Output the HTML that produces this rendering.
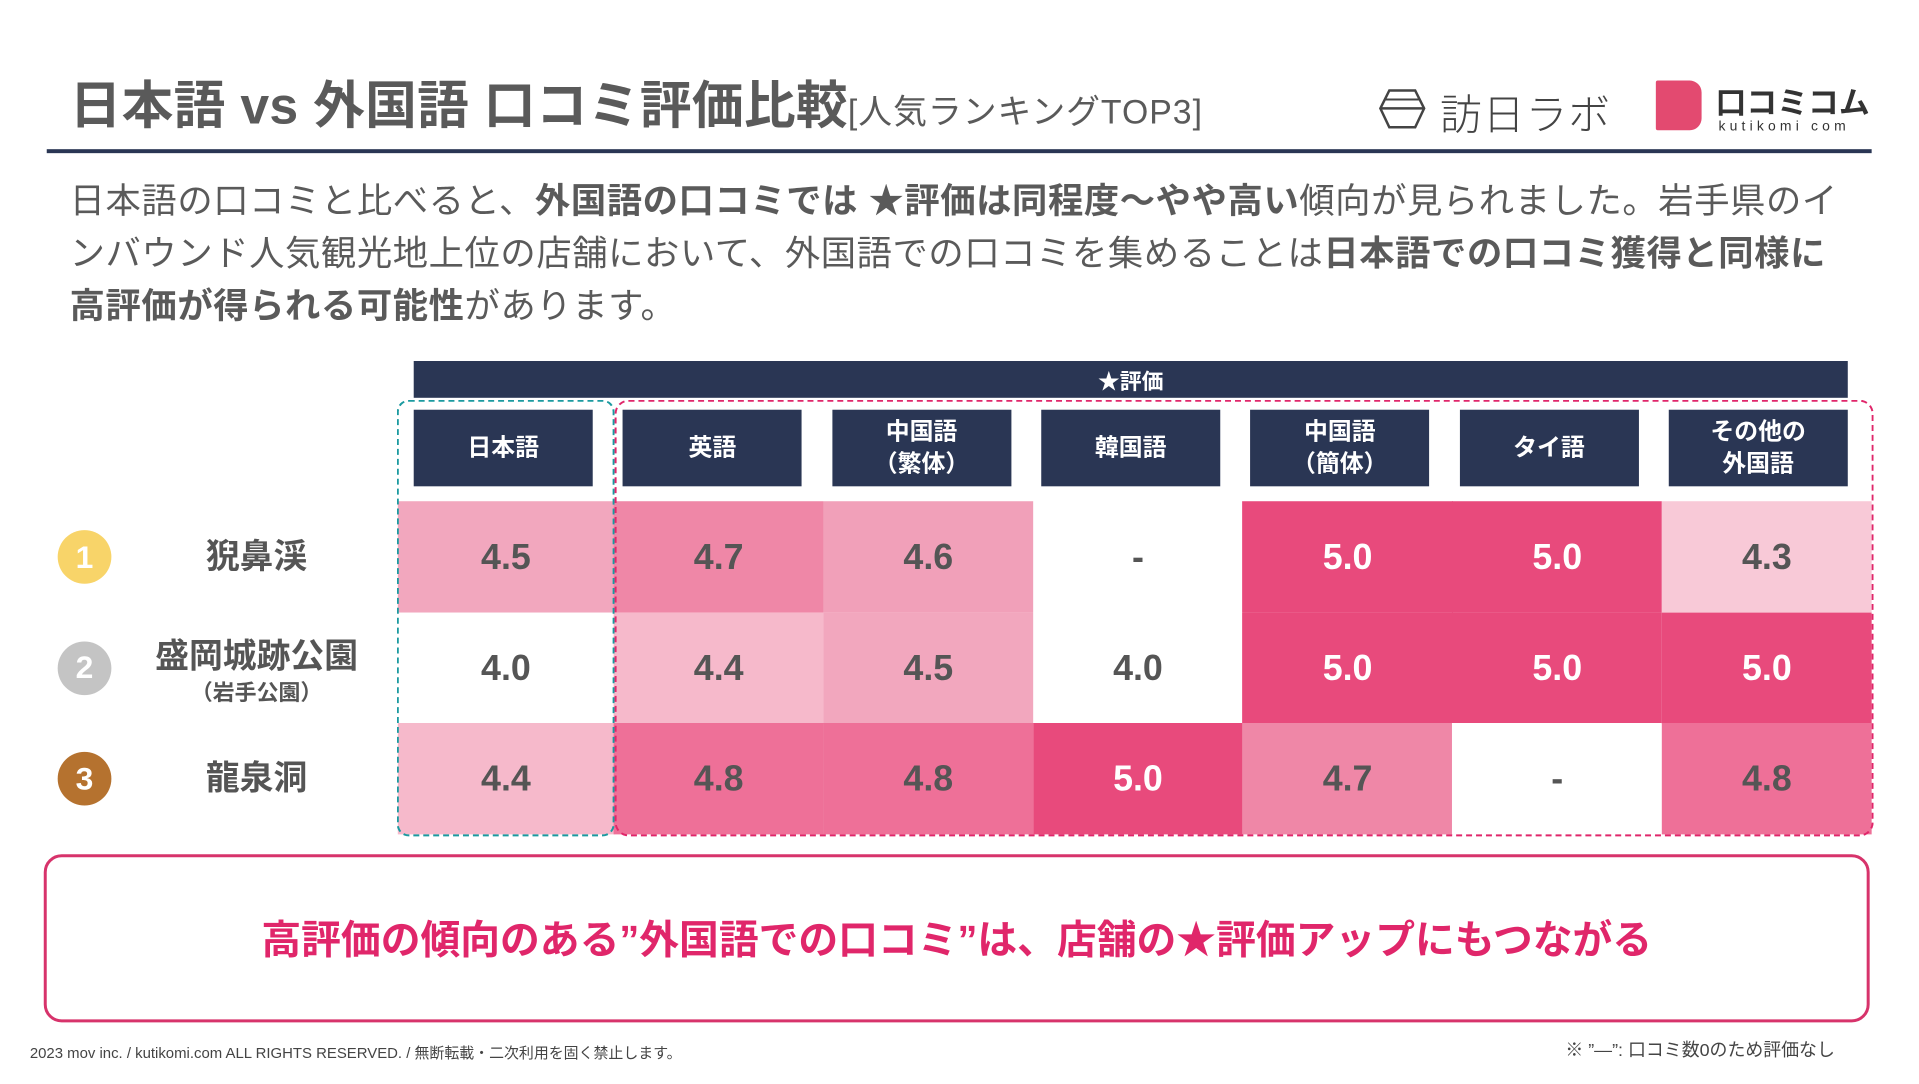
<!DOCTYPE html>
<html><head><meta charset="utf-8">
<style>
html,body{margin:0;padding:0;background:#fff;}
body{width:1919px;height:1080px;position:relative;overflow:hidden;font-family:"Liberation Sans","Noto Sans CJK JP",sans-serif;color:#555;}
#wrap{position:absolute;left:0;top:0;width:1930px;height:1090px;transform:scale(0.9945);transform-origin:0 0;}
.abs{position:absolute;}
.title{left:70px;top:64px;font-size:52px;font-weight:bold;color:#5a5a5a;white-space:nowrap;letter-spacing:0.3px;}
.title span{font-size:34px;font-weight:normal;letter-spacing:1px;}
.para{left:70px;top:176px;font-size:35.5px;line-height:53px;color:#5a5a5a;white-space:nowrap;letter-spacing:0.6px;}
.hdr{background:#2a3654;color:#fff;font-weight:bold;display:flex;align-items:center;justify-content:center;text-align:center;}
.cell{display:flex;align-items:center;justify-content:center;font-weight:bold;font-size:36px;}
.rank{width:54px;height:54px;border-radius:50%;color:#fff;font-weight:bold;font-size:32px;display:flex;align-items:center;justify-content:center;}
.lbl{font-weight:bold;font-size:34px;color:#555;text-align:center;width:260px;}
</style></head>
<body>
<div id="wrap">
<div class="abs title">日本語 vs 外国語 口コミ評価比較<span>[人気ランキングTOP3]</span></div>

<svg class="abs" style="left:1385px;top:88px" width="50" height="44">
<polygon points="12,3 38,3 47,21 38,40 12,40 3,21" fill="none" stroke="#444" stroke-width="2.5"/>
<line x1="3" y1="21" x2="47" y2="21" stroke="#444" stroke-width="2.5"/><line x1="8" y1="12" x2="42" y2="12" stroke="#444" stroke-width="2"/></svg>
<div class="abs" style="left:1448px;top:82px;font-size:42px;color:#444;letter-spacing:1px;white-space:nowrap;font-weight:300">訪日ラボ</div>
<div class="abs" style="left:1665px;top:81px;width:46px;height:50px;background:#e34a70;border-radius:2px 12px 12px 2px"></div>
<div class="abs" style="left:1725px;top:78px;font-size:31px;color:#333;font-weight:bold;white-space:nowrap;letter-spacing:0px">口コミコム</div>
<div class="abs" style="left:1728px;top:118px;font-size:14px;color:#333;letter-spacing:4.2px;white-space:nowrap">kutikomi com</div>

<div class="abs" style="left:47px;top:150px;width:1835px;height:4px;background:#2a3654"></div>

<div class="abs para">日本語の口コミと比べると、<b>外国語の口コミでは ★評価は同程度〜やや高い</b>傾向が見られました。岩手県のイ<br>ンバウンド人気観光地上位の店舗において、外国語での口コミを集めることは<b>日本語での口コミ獲得と同様に</b><br><b>高評価が得られる可能性</b>があります。</div>

<div class="abs hdr" style="left:416px;top:363px;width:1442px;height:37px;font-size:22px">★評価</div>

<div id="chart"></div>

<div class="abs" style="left:44px;top:859px;width:1830px;height:163px;border:3px solid #d7336b;border-radius:18px"></div>
<div class="abs" style="left:44px;top:913px;width:1836px;text-align:center;font-size:40px;font-weight:bold;color:#e0266a;white-space:nowrap">高評価の傾向のある”外国語での口コミ”は、店舗の★評価アップにもつながる</div>

<div class="abs" style="left:30px;top:1048px;font-size:15px;color:#444;white-space:nowrap">2023 mov inc. / kutikomi.com ALL RIGHTS RESERVED. / 無断転載・二次利用を固く禁止します。</div>
<div class="abs" style="left:1574px;top:1042px;font-size:18px;color:#444;white-space:nowrap">※ ”―”: 口コミ数0のため評価なし</div>
</div>
<script>
const languages = ["日本語","英語","中国語<br>（繁体）","韓国語","中国語<br>（簡体）","タイ語","その他の<br>外国語"];
const spots = ["猊鼻渓","盛岡城跡公園","龍泉洞"];
const spotSub = ["","（岩手公園）",""];
const rankColors = ["#f8d469","#c4c4c4","#b5722f"];
const row1 = [4.5,4.7,4.6,null,5.0,5.0,4.3];
const row2 = [4.0,4.4,4.5,4.0,5.0,5.0,5.0];
const row3 = [4.4,4.8,4.8,5.0,4.7,null,4.8];
const rows = [row1,row2,row3];

const root = document.getElementById('chart');
const cellX = i => i === 0 ? 400 : 617 + (i - 1) * 210.8;
const cellW = i => i === 0 ? 217 : 210.8;
const hdrX = i => 416 + i * 210.3;
const rowY = r => 504 + r * 111.7;
function color(v){
  if (v === null || v <= 4.0) return '#ffffff';
  if (v >= 5.0) return '#e84a7c';
  if (v >= 4.8) return '#ee7098';
  if (v >= 4.7) return '#ef87a7';
  if (v >= 4.6) return '#f1a0b9';
  if (v >= 4.5) return '#f2a7be';
  if (v >= 4.4) return '#f6b9cb';
  return '#f8c9d7';
}
languages.forEach((l, i) => {
  const d = document.createElement('div');
  d.className = 'abs hdr';
  d.style.cssText = `left:${hdrX(i)}px;top:412px;width:180px;height:77px;font-size:24px;line-height:32px;`;
  d.innerHTML = l;
  
  
  root.appendChild(d);
});
rows.forEach((row, r) => {
  row.forEach((v, i) => {
    const d = document.createElement('div');
    d.className = 'abs cell';
    d.style.cssText = `left:${cellX(i)}px;top:${rowY(r)}px;width:${cellW(i)+0.5}px;height:112px;background:${color(v)};color:${v !== null && v >= 5.0 ? '#fff' : '#555'};`;
    d.textContent = v === null ? '-' : v.toFixed(1);
    
    
    root.appendChild(d);
  });
  const c = document.createElement('div');
  c.className = 'abs rank';
  c.style.cssText = `left:58px;top:${rowY(r)+29}px;background:${rankColors[r]};`;
  c.textContent = r + 1;
  
  
  root.appendChild(c);
  const lb = document.createElement('div');
  lb.className = 'abs lbl';
  lb.style.cssText = `left:128px;top:${rowY(r) + (spotSub[r] ? 22 : 33)}px;line-height:${spotSub[r] ? 44 : 46}px;`;
  lb.innerHTML = spots[r] + (spotSub[r] ? `<div style="font-size:22px;line-height:30px">${spotSub[r]}</div>` : '');
  
  
  root.appendChild(lb);
});
const t = document.createElement('div');
t.className = 'abs';
t.style.cssText = 'left:399px;top:402px;width:215px;height:435px;border:2.5px dashed #1b9aa0;border-radius:12px;';


root.appendChild(t);
const p = document.createElement('div');
p.className = 'abs';
p.style.cssText = 'left:618px;top:402px;width:1262px;height:435px;border:2.5px dashed #e0266a;border-radius:14px;';


root.appendChild(p);
</script>
</body></html>
